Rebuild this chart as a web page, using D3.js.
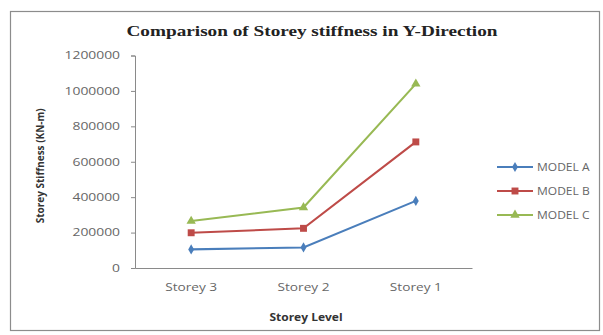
<!DOCTYPE html>
<html>
<head>
<meta charset="utf-8">
<script src="https://cdn.jsdelivr.net/npm/d3@7"></script>
<style>
  html, body { margin: 0; padding: 0; background: #fff; }
  svg { display: block; }
</style>
</head>
<body>
<svg id="chart" width="603" height="335"></svg>
<script>
// Storey stiffness in the Y direction for three building models
const storeys = ["Storey 3", "Storey 2", "Storey 1"];
const modelA = [105000, 116000, 379000];
const modelB = [199000, 224000, 712000];
const modelC = [265000, 342000, 1040000];
const yTicks = [0, 200000, 400000, 600000, 800000, 1000000, 1200000];

const seriesList = [
  { name: "MODEL A", values: modelA, color: "#4a7ebb", shape: d3.symbolDiamond, size: 30 },
  { name: "MODEL B", values: modelB, color: "#be4b48", shape: d3.symbolSquare, size: 48 },
  { name: "MODEL C", values: modelC, color: "#98b954", shape: d3.symbolTriangle, size: 38 }
];

const SANS = "'Open Sans', 'Liberation Sans', sans-serif";
const svg = d3.select("#chart");
const W = 603, H = 335;

// widen a text element horizontally by factor sx, keeping its anchor
function widen(sel, sx) {
  sel.each(function () {
    const w = this.getComputedTextLength();
    d3.select(this).attr("textLength", w * sx).attr("lengthAdjust", "spacingAndGlyphs");
  });
}

// outer chart frame
svg.append("rect")
  .attr("x", 10.5).attr("y", 11.5)
  .attr("width", W - 14).attr("height", H - 16)
  .attr("fill", "#fff").attr("stroke", "#8c8c8c").attr("stroke-width", 1.2);

const plot = { left: 135, right: 472, top: 55.5, bottom: 268 };

const x = d3.scaleBand().domain(storeys).range([plot.left, plot.right]);
const y = d3.scaleLinear().domain([0, 1200000]).range([plot.bottom, plot.top]);

// title
svg.append("text")
  .attr("x", 312).attr("y", 36)
  .attr("text-anchor", "middle")
  .attr("font-family", "'Liberation Serif', 'Times New Roman', serif")
  .attr("font-weight", "bold")
  .attr("font-size", 15.5)
  .attr("fill", "#222")
  .text("Comparison of Storey stiffness in Y-Direction")
  .call(widen, 1.24);

// y axis
const yAxis = svg.append("g")
  .attr("transform", `translate(${plot.left},0)`)
  .call(d3.axisLeft(y).tickValues(yTicks).tickSize(4).tickPadding(11).tickFormat(d3.format("d")));
yAxis.select(".domain").attr("stroke", "#8a8a8a");
yAxis.selectAll(".tick line").attr("stroke", "#8a8a8a");
yAxis.selectAll("text")
  .attr("font-family", SANS)
  .attr("font-size", 10.5)
  .attr("fill", "#666")
  .call(widen, 1.32);

// x axis
const xAxis = svg.append("g")
  .attr("transform", `translate(0,${plot.bottom})`)
  .call(d3.axisBottom(x).tickSize(0).tickPadding(16));
xAxis.select(".domain").attr("stroke", "#8a8a8a");
xAxis.selectAll("text")
  .attr("font-family", SANS)
  .attr("font-size", 10.5)
  .attr("fill", "#666")
  .call(widen, 1.3);

// axis titles
svg.append("text")
  .attr("transform", `translate(44,${(plot.top + plot.bottom) / 2 + 4}) rotate(-90)`)
  .attr("text-anchor", "middle")
  .attr("font-family", SANS)
  .attr("font-weight", "bold")
  .attr("font-size", 10)
  .attr("fill", "#333")
  .text("Storey Stiffness (KN-m)");

svg.append("text")
  .attr("x", 306).attr("y", 321)
  .attr("text-anchor", "middle")
  .attr("font-family", SANS)
  .attr("font-weight", "bold")
  .attr("font-size", 10)
  .attr("fill", "#333")
  .text("Storey Level")
  .call(widen, 1.2);

// lines and markers
const line = d3.line()
  .x((d, i) => x(storeys[i]) + x.bandwidth() / 2)
  .y(d => y(d));

seriesList.forEach(s => {
  svg.append("path")
    .datum(s.values)
    .attr("d", line)
    .attr("fill", "none")
    .attr("stroke", s.color)
    .attr("stroke-width", 2.1);
  svg.selectAll(null)
    .data(s.values)
    .enter().append("path")
    .attr("transform", (d, i) => `translate(${x(storeys[i]) + x.bandwidth() / 2},${y(d)})`)
    .attr("d", d3.symbol().type(s.shape).size(s.size))
    .attr("fill", s.color);
});

// legend
const legend = svg.append("g");
seriesList.forEach((s, i) => {
  const ly = 167 + i * 24;
  legend.append("line")
    .attr("x1", 497).attr("x2", 533)
    .attr("y1", ly).attr("y2", ly)
    .attr("stroke", s.color).attr("stroke-width", 2.1);
  legend.append("path")
    .attr("transform", `translate(515,${ly})`)
    .attr("d", d3.symbol().type(s.shape).size(s.size))
    .attr("fill", s.color);
  legend.append("text")
    .attr("x", 537).attr("y", ly + 3.8)
    .attr("font-family", SANS)
    .attr("font-size", 10)
    .attr("fill", "#666")
    .text(s.name)
    .call(widen, 1.2);
});
</script>
</body>
</html>
